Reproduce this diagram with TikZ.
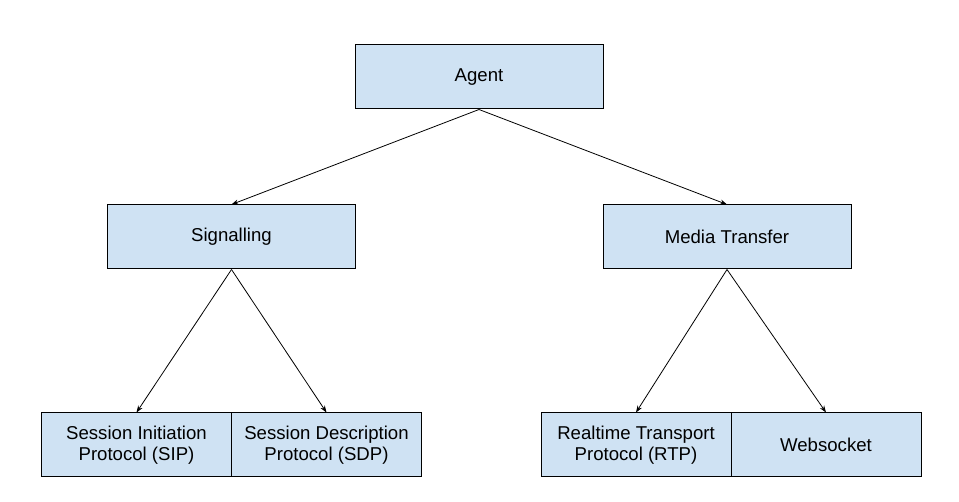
\documentclass[tikz,border=0pt]{standalone}
\usepackage{fontspec}
\setmainfont{Liberation Sans}
\usetikzlibrary{arrows.meta,graphs}

\definecolor{boxblue}{HTML}{CFE2F3}

\tikzset{
  block/.style={draw=black, fill=boxblue, line width=1pt, minimum height=64pt,
    inner sep=0pt, align=center, font=\fontsize{18.6}{20.5}\selectfont},
  wide/.style={block, minimum width=248pt},
  leaf/.style={block, minimum width=190pt}
}

\begin{document}
\begin{tikzpicture}[x=1pt, y=-1pt]
  \useasboundingbox (0,0) rectangle (959,502);
    \node[wide] (agent) at (479,77) {Agent};
    \node[wide] (sig) at (231.5,237) {Signalling};
    \node[wide] (media) at (727,237) {Media Transfer};
    \node[leaf] (sip) at (136.5,445) {Session Initiation\\Protocol (SIP)};
    \node[leaf] (sdp) at (326.5,445) {Session Description\\Protocol (SDP)};
    \node[leaf] (rtp) at (636,445) {Realtime Transport\\Protocol (RTP)};
    \node[leaf] (ws) at (826,445) {Websocket};
  \graph[use existing nodes, edges={line width=0.8pt, -{Stealth[length=7pt,width=5pt]}}] {
    agent.south -> {sig.north, media.north};
    sig.south -> {sip.north, sdp.north};
    media.south -> {rtp.north, ws.north};
  };
\end{tikzpicture}
\end{document}
